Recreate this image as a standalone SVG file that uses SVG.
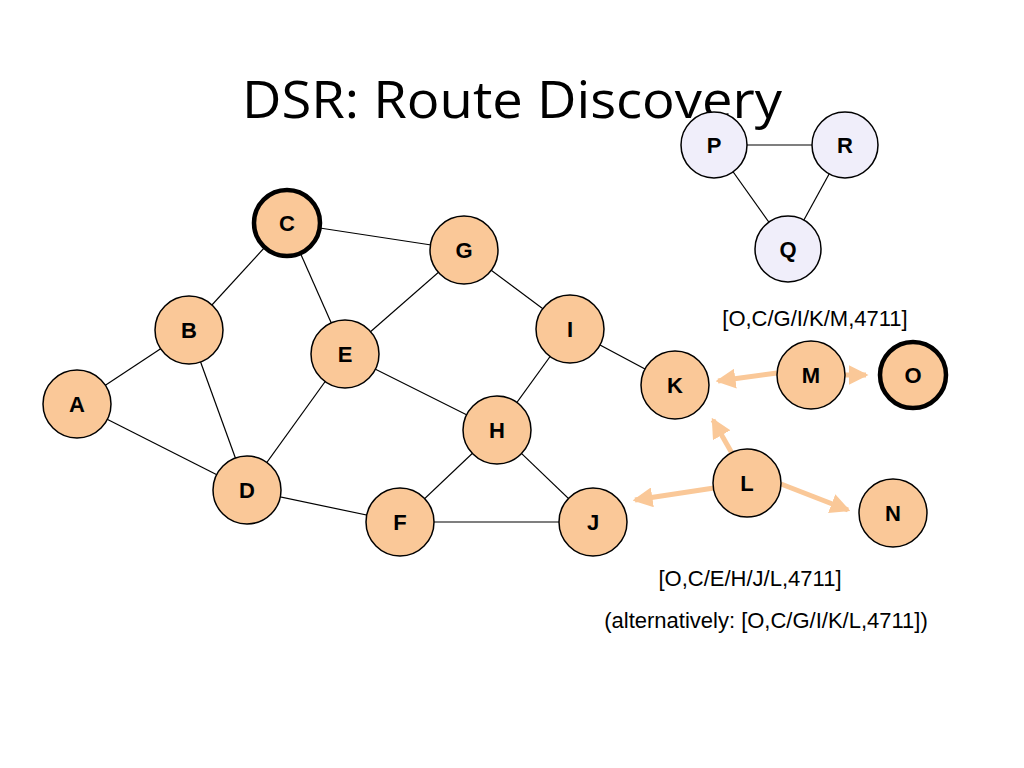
<svg xmlns="http://www.w3.org/2000/svg" width="1024" height="768" viewBox="0 0 1024 768">
<style>
.n{fill:#FAC898;stroke:#000;stroke-width:1.5}
.t{fill:#F0EEFA;stroke:#000;stroke-width:1.5}
.b{stroke-width:4.5}
.lb{font-family:"Liberation Sans",Arial,sans-serif;font-weight:bold;font-size:22px;text-anchor:middle}
.e{stroke:#000;stroke-width:1.2}
.a{stroke:#FAC898;stroke-width:5;marker-end:url(#ah)}
.tx{font-family:"Liberation Sans",Arial,sans-serif;font-size:22px;text-anchor:middle}
</style>
<defs><marker id="ah" markerWidth="4" markerHeight="4" refX="3.5" refY="2" orient="auto"><path d="M0,0L4,2L0,4z" fill="#FAC898"/></marker></defs>
<rect width="1024" height="768" fill="#fff"/>
<text x="512" y="118" font-family="Open Sans,Liberation Sans,sans-serif" font-size="52" text-anchor="middle" textLength="540" lengthAdjust="spacingAndGlyphs">DSR: Route Discovery</text>
<g id="connectors">
<line class="e" x1="287" y1="223" x2="189" y2="330"/>
<line class="e" x1="287" y1="223" x2="464" y2="250"/>
<line class="e" x1="287" y1="223" x2="345" y2="354"/>
<line class="e" x1="189" y1="330" x2="77" y2="404"/>
<line class="e" x1="189" y1="330" x2="247" y2="490"/>
<line class="e" x1="345" y1="354" x2="464" y2="250"/>
<line class="e" x1="345" y1="354" x2="247" y2="490"/>
<line class="e" x1="345" y1="354" x2="497" y2="430"/>
<line class="e" x1="464" y1="250" x2="570" y2="329"/>
<line class="e" x1="570" y1="329" x2="497" y2="430"/>
<line class="e" x1="570" y1="329" x2="675" y2="385"/>
<line class="e" x1="77" y1="404" x2="247" y2="490"/>
<line class="e" x1="247" y1="490" x2="400" y2="522"/>
<line class="e" x1="400" y1="522" x2="497" y2="430"/>
<line class="e" x1="400" y1="522" x2="593" y2="522"/>
<line class="e" x1="497" y1="430" x2="593" y2="522"/>
<line class="e" x1="714" y1="145" x2="845" y2="145"/>
<line class="e" x1="714" y1="145" x2="788" y2="249"/>
<line class="e" x1="845" y1="145" x2="788" y2="249"/>
<line class="a" x1="777" y1="373" x2="718" y2="381"/>
<line class="a" x1="845" y1="375" x2="866" y2="375"/>
<line class="a" x1="733" y1="455" x2="713" y2="420"/>
<line class="a" x1="714" y1="488" x2="635" y2="500"/>
<line class="a" x1="781" y1="484" x2="848" y2="510"/>
</g>
<g id="P"><circle class="t" cx="714" cy="145" r="33"/><text class="lb" x="714" y="153">P</text></g>
<g id="R"><circle class="t" cx="845" cy="145" r="33"/><text class="lb" x="845" y="153">R</text></g>
<g id="Q"><circle class="t" cx="788" cy="249" r="33"/><text class="lb" x="788" y="257">Q</text></g>
<g id="C"><circle class="n b" cx="287" cy="223" r="33"/><text class="lb" x="287" y="231">C</text></g>
<g id="G"><circle class="n" cx="464" cy="250" r="34"/><text class="lb" x="464" y="258">G</text></g>
<g id="B"><circle class="n" cx="189" cy="330" r="34"/><text class="lb" x="189" y="338">B</text></g>
<g id="E"><circle class="n" cx="345" cy="354" r="34"/><text class="lb" x="345" y="362">E</text></g>
<g id="I"><circle class="n" cx="570" cy="329" r="34"/><text class="lb" x="570" y="337">I</text></g>
<g id="A"><circle class="n" cx="77" cy="404" r="34"/><text class="lb" x="77" y="412">A</text></g>
<g id="K"><circle class="n" cx="675" cy="385" r="34"/><text class="lb" x="675" y="393">K</text></g>
<g id="M"><circle class="n" cx="811" cy="375" r="34"/><text class="lb" x="811" y="383">M</text></g>
<g id="O"><circle class="n b" cx="913" cy="375" r="33"/><text class="lb" x="913" y="383">O</text></g>
<g id="H"><circle class="n" cx="497" cy="430" r="34"/><text class="lb" x="497" y="438">H</text></g>
<g id="L"><circle class="n" cx="747" cy="483" r="34"/><text class="lb" x="747" y="491">L</text></g>
<g id="D"><circle class="n" cx="247" cy="490" r="34"/><text class="lb" x="247" y="498">D</text></g>
<g id="F"><circle class="n" cx="400" cy="522" r="34"/><text class="lb" x="400" y="530">F</text></g>
<g id="J"><circle class="n" cx="593" cy="522" r="34"/><text class="lb" x="593" y="530">J</text></g>
<g id="N"><circle class="n" cx="893" cy="513" r="34"/><text class="lb" x="893" y="521">N</text></g>
<text class="tx" x="815" y="326">[O,C/G/I/K/M,4711]</text>
<text class="tx" x="750" y="586">[O,C/E/H/J/L,4711]</text>
<text class="tx" x="766" y="628">(alternatively: [O,C/G/I/K/L,4711])</text>
</svg>
